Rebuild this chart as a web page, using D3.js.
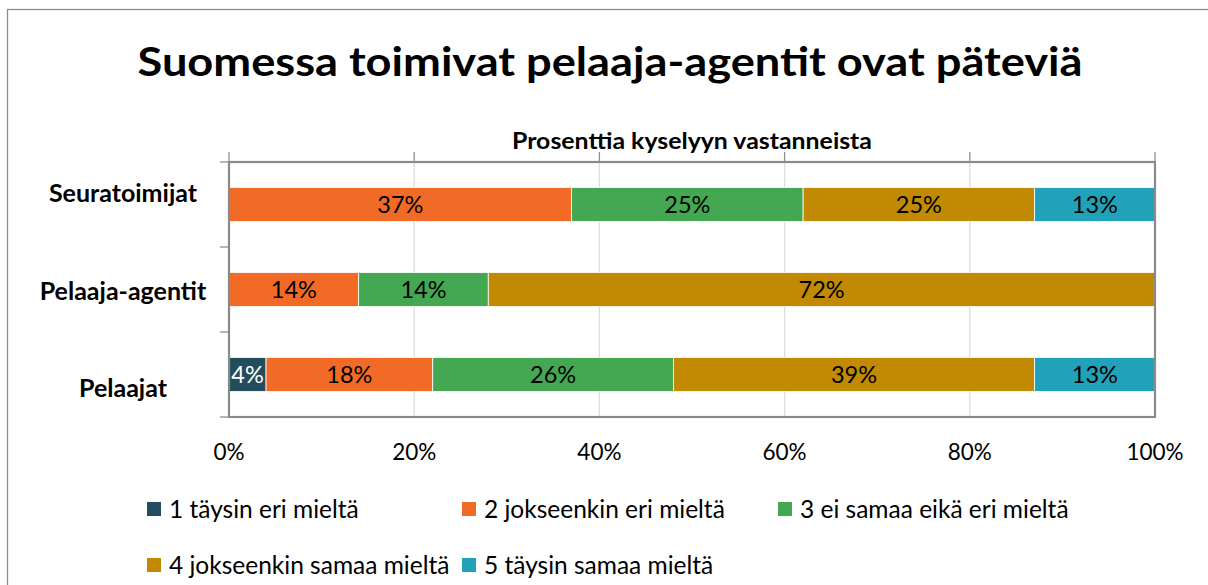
<html>
<head>
<meta charset="utf-8">
<script src="https://d3js.org/d3.v7.min.js"></script>
<style>
  body { margin: 0; background: #fff; }
  text { font-family: Lato, "Open Sans", sans-serif; fill: #000; }
</style>
</head>
<body>
<svg id="chart" width="1208" height="585"></svg>

<script>
var categories = ["Seuratoimijat", "Pelaaja-agentit", "Pelaajat"];
var seriesNames = ["1 täysin eri mieltä", "2 jokseenkin eri mieltä", "3 ei samaa eikä eri mieltä",
                   "4 jokseenkin samaa mieltä", "5 täysin samaa mieltä"];
var taysinEri = [0, 0, 4];
var jokseenkinEri = [37, 14, 18];
var eiSamaaEikaEri = [25, 14, 26];
var jokseenkinSamaa = [25, 72, 39];
var taysinSamaa = [13, 0, 13];
var xTicks = [0, 20, 40, 60, 80, 100];
var colors = ["#234d5c", "#f26b26", "#44a853", "#c18a02", "#22a2b8"];

var svg = d3.select("#chart");

// outer chart border
svg.append("rect")
  .attr("x", 7.5).attr("y", 9.5)
  .attr("width", 1230).attr("height", 600)
  .attr("fill", "none").attr("stroke", "#8e8e8e").attr("stroke-width", 1.3);

var plotL = 229, plotR = 1155, plotT = 162, plotB = 417;

var x = d3.scaleLinear().domain([0, 100]).range([plotL, plotR]);
var y = d3.scaleBand().domain(categories).range([plotT, plotB]).paddingInner(0.6).paddingOuter(0.3);
// excel spreads the category labels a bit wider than the bars
var yLabel = d3.scaleBand().domain(categories).range([plotT - 18, plotB + 20]);

// rows for the stack
var rows = categories.map(function(c, i) {
  return { cat: c, s0: taysinEri[i], s1: jokseenkinEri[i], s2: eiSamaaEikaEri[i], s3: jokseenkinSamaa[i], s4: taysinSamaa[i] };
});
var stack = d3.stack().keys(["s0", "s1", "s2", "s3", "s4"]);
var layers = stack(rows);

// gridlines
svg.append("g").selectAll("line")
  .data(xTicks.slice(1, -1))
  .join("line")
  .attr("x1", function(d) { return x(d); }).attr("x2", function(d) { return x(d); })
  .attr("y1", plotT).attr("y2", plotB)
  .attr("stroke", "#dcdcdc").attr("stroke-width", 1.3);

// top tick marks
svg.append("g").selectAll("line")
  .data(xTicks)
  .join("line")
  .attr("x1", function(d) { return x(d); }).attr("x2", function(d) { return x(d); })
  .attr("y1", plotT - 10).attr("y2", plotT)
  .attr("stroke", "#8e8e8e").attr("stroke-width", 1.3);

// left tick marks at band edges
var edges = d3.range(categories.length + 1).map(function(i) { return plotT + i * (plotB - plotT) / categories.length; });
svg.append("g").selectAll("line")
  .data(edges)
  .join("line")
  .attr("x1", plotL - 9).attr("x2", plotL)
  .attr("y1", function(d) { return d; }).attr("y2", function(d) { return d; })
  .attr("stroke", "#8e8e8e").attr("stroke-width", 1.3);

// bars
var g = svg.append("g");
layers.forEach(function(layer, si) {
  g.append("g").selectAll("rect")
    .data(layer.filter(function(d) { return d[1] - d[0] > 0; }))
    .join("rect")
    .attr("x", function(d) { return x(d[0]); })
    .attr("width", function(d) { return x(d[1]) - x(d[0]); })
    .attr("y", function(d) { return y(d.data.cat); })
    .attr("height", y.bandwidth())
    .attr("fill", colors[si])
    .attr("stroke", "#fff").attr("stroke-width", 0.8);
});

// data labels
layers.forEach(function(layer, si) {
  g.append("g").selectAll("text")
    .data(layer.filter(function(d) { return d[1] - d[0] > 0; }))
    .join("text")
    .attr("x", function(d) { return (x(d[0]) + x(d[1])) / 2; })
    .attr("y", function(d) { return y(d.data.cat) + y.bandwidth() / 2; })
    .attr("dy", "0.36em")
    .attr("text-anchor", "middle")
    .style("font-size", "23.5px")
    .style("fill", si === 0 ? "#fff" : "#000")
    .text(function(d) { return (d[1] - d[0]) + "%"; });
});

// plot frame
svg.append("rect")
  .attr("x", plotL).attr("y", plotT)
  .attr("width", plotR - plotL).attr("height", plotB - plotT)
  .attr("fill", "none").attr("stroke", "#8a8a8a").attr("stroke-width", 2.2);

// x axis labels
svg.append("g").selectAll("text")
  .data(xTicks)
  .join("text")
  .attr("x", function(d) { return x(d); })
  .attr("y", 460)
  .attr("text-anchor", "middle")
  .style("font-size", "22.5px")
  .text(function(d) { return d + "%"; });

// category labels
svg.append("g").selectAll("text")
  .data(categories)
  .join("text")
  .attr("x", 123)
  .attr("y", function(d) { return yLabel(d) + yLabel.bandwidth() / 2; })
  .attr("dy", "0.36em")
  .attr("text-anchor", "middle")
  .style("font-size", "25px")
  .style("font-weight", "bold")
  .text(function(d) { return d; });

// title + subtitle
svg.append("text")
  .attr("x", 610).attr("y", 76)
  .attr("text-anchor", "middle")
  .attr("textLength", 945).attr("lengthAdjust", "spacingAndGlyphs")
  .style("font-size", "41px").style("font-weight", "bold")
  .text("Suomessa toimivat pelaaja-agentit ovat päteviä");

svg.append("text")
  .attr("x", 692).attr("y", 149)
  .attr("text-anchor", "middle")
  .attr("textLength", 360).attr("lengthAdjust", "spacingAndGlyphs")
  .style("font-size", "22px").style("font-weight", "bold")
  .text("Prosenttia kyselyyn vastanneista");

// legend
var legendPos = [[147, 509], [462, 509], [778, 509], [147, 565], [462, 565]];
var legend = svg.append("g").selectAll("g")
  .data(seriesNames)
  .join("g")
  .attr("transform", function(d, i) { return "translate(" + legendPos[i][0] + "," + legendPos[i][1] + ")"; });
legend.append("rect")
  .attr("x", 0).attr("y", -7).attr("width", 14).attr("height", 14)
  .attr("fill", function(d, i) { return colors[i]; });
legend.append("text")
  .attr("x", 22).attr("y", 0).attr("dy", "0.36em")
  .style("font-size", "24.5px")
  .text(function(d) { return d; });
</script>
</body>
</html>
